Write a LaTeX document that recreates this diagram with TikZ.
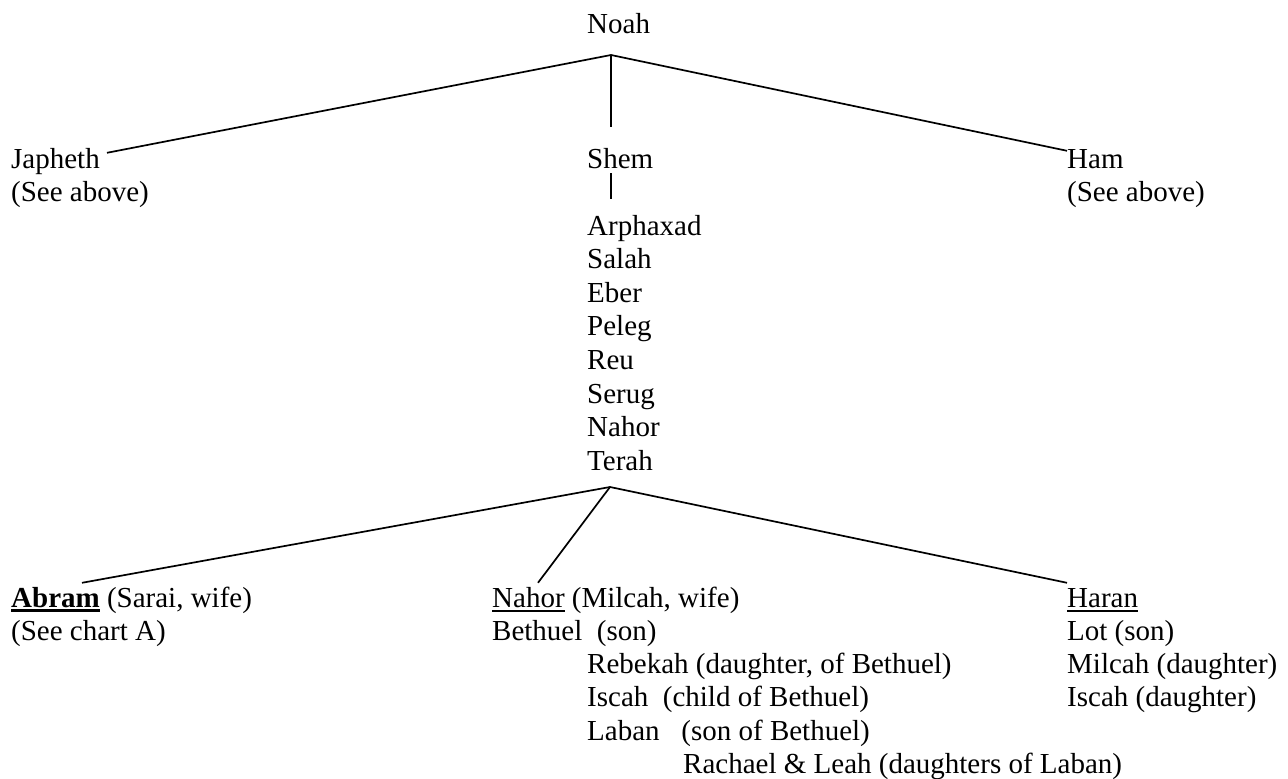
\documentclass[tikz,border=0pt]{standalone}
\usepackage{fontspec}
\setmainfont{Liberation Serif}
\usetikzlibrary{calc}
\newcommand{\undl}[2][1.6pt]{\setbox0\hbox{#2}\rlap{\rule[-5pt]{\wd0}{#1}}\box0\relax}

\begin{document}
\begin{tikzpicture}[x=1pt,y=-1pt,
	person/.style={inner sep=0pt,anchor=base west,text height=15pt,text depth=5pt,
		font=\fontsize{29pt}{33.5pt}\selectfont},
	branch/.style={line width=1.7pt}]
	\useasboundingbox (0,0) rectangle (1288,779);

	%Noah and his sons
	\node[person] (noah) at (587,34) {Noah};
	\coordinate (noahfork) at (611,55);
	\node[person] (japheth)  at (11,168)   {Japheth};
	\node[person] (japhnote) at (11,201.5) {(See above)};
	\node[person] (shem)     at (587,168)  {Shem};
	\node[person] (ham)      at (1067,168) {Ham};
	\node[person] (hamnote)  at (1067,201.5) {(See above)};
	%
	\draw[branch] (noahfork) -- ([xshift=7pt]japheth.north east);
	\draw[branch] (noahfork) -- ($(noahfork |- shem.north)+(0,-26)$);
	\draw[branch] (noahfork) -- ([yshift=2pt]ham.north west);

	%line of Shem
	\node[person] (arphaxad) at (587,235)   {Arphaxad};
	\node[person] (salah)    at (587,268.6) {Salah};
	\node[person] (eber)     at (587,302.2) {Eber};
	\node[person] (peleg)    at (587,335.8) {Peleg};
	\node[person] (reu)      at (587,369.4) {Reu};
	\node[person] (serug)    at (587,403)   {Serug};
	\node[person] (nahor)    at (587,436.6) {Nahor};
	\node[person] (terah)    at (587,470.2) {Terah};
	\coordinate (terahfork) at (610,487);
	\draw[branch] (noahfork |- shem.south) -- ($(noahfork |- arphaxad.north)+(0,-21)$);

	%sons of Terah
	\node[person] (abram)    at (11,607)   {\undl[3pt]{\textbf{Abram}} (Sarai, wife)};
	\node[person] (abramnote) at (11,640.3) {(See chart A)};
	%
	\node[person] (nahorson) at (492,607)   {\undl{Nahor} (Milcah, wife)};
	\node[person] (bethuel)  at (492,640.3) {Bethuel\ \ (son)};
	\node[person] (rebekah)  at (587,673.6) {Rebekah (daughter, of Bethuel)};
	\node[person] (iscahb)   at (587,706.9) {Iscah\ \ (child of Bethuel)};
	\node[person] (laban)    at (587,740.2) {Laban\ \ \ (son of Bethuel)};
	\node[person] (rachael)  at (683,773.5) {Rachael \& Leah (daughters of Laban)};
	%
	\node[person] (haran)    at (1067,607)   {\undl{Haran}};
	\node[person] (lot)      at (1067,640.3) {Lot (son)};
	\node[person] (milcah)   at (1067,673.6) {Milcah (daughter)};
	\node[person] (iscahh)   at (1067,706.9) {Iscah (daughter)};
	%
	\draw[branch] (terahfork) -- ($(abram.north west)+(71,-9)$);
	\draw[branch] (terahfork) -- ($(nahorson.north west)+(46,-9)$);
	\draw[branch] (terahfork) -- ($(haran.north west)+(0,-9)$);
\end{tikzpicture}
\end{document}
